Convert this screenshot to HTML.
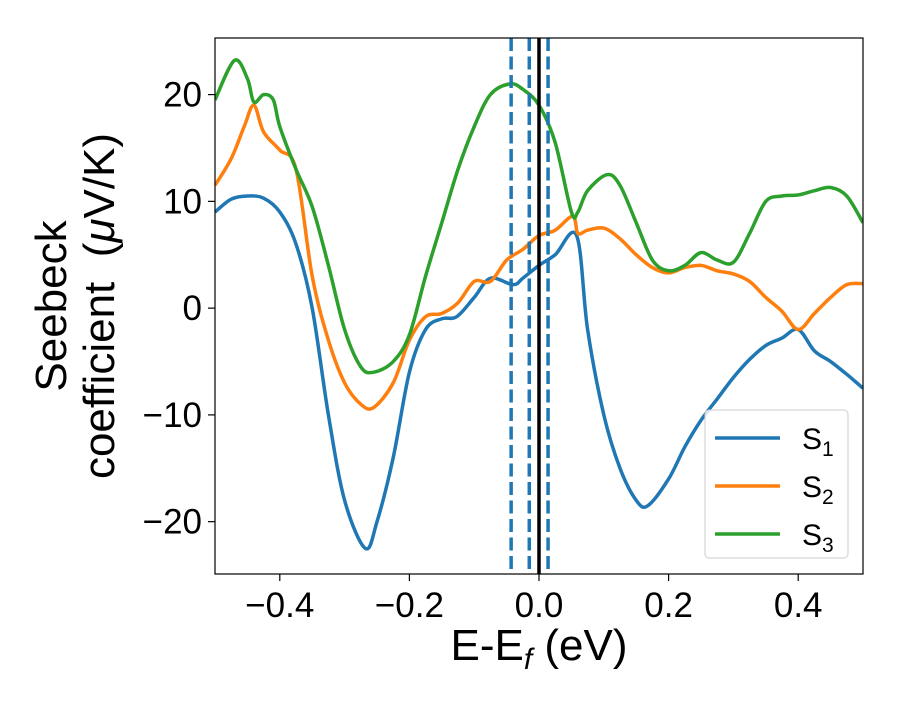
<!DOCTYPE html>
<html><head><meta charset="utf-8"><style>
body{margin:0;background:#fff}
svg text{font-family:"Liberation Sans","DejaVu Sans",sans-serif;fill:#000;white-space:pre}
</style></head><body>
<svg id="chart" width="900" height="700" xmlns="http://www.w3.org/2000/svg"></svg>
<script>
const xTicks=[-0.4,-0.2,0.0,0.2,0.4];
const xTickLabels=["−0.4","−0.2","0.0","0.2","0.4"];
const yTicks=[20,10,0,-10,-20];
const yTickLabels=["20","10","0","−10","−20"];
const s1X=[-0.5,-0.475,-0.45,-0.425,-0.4,-0.375,-0.35,-0.325,-0.3,-0.268,-0.25,-0.225,-0.2,-0.175,-0.15,-0.127,-0.1,-0.075,-0.04,-0.025,0,0.025,0.058,0.075,0.1,0.125,0.15,0.168,0.2,0.225,0.25,0.275,0.3,0.325,0.35,0.375,0.4,0.425,0.45,0.475,0.5];
const s1Y=[9,10.2,10.5,10.3,9,6,0,-10,-18,-22.5,-20,-14,-6,-2,-1,-0.8,1,2.8,2.2,2.8,4,5,6.8,-2,-10,-15,-18,-18.5,-16,-13,-10.5,-8.5,-6.5,-4.8,-3.5,-2.8,-2,-4,-5,-6.2,-7.5];
const s2X=[-0.5,-0.475,-0.455,-0.44,-0.425,-0.4,-0.375,-0.35,-0.325,-0.3,-0.275,-0.255,-0.225,-0.2,-0.175,-0.15,-0.125,-0.1,-0.075,-0.05,-0.025,0,0.025,0.052,0.06,0.075,0.1,0.125,0.15,0.175,0.2,0.225,0.25,0.275,0.3,0.325,0.35,0.375,0.4,0.425,0.45,0.475,0.5];
const s2Y=[11.5,14,17,19,16.5,14.8,13,3,-3,-7,-9,-9.3,-7,-3,-0.8,-0.5,0.5,2.5,2.5,4.5,5.5,6.8,7.3,8.6,7,7.3,7.5,6.5,5,3.8,3.3,3.8,4,3.5,3.2,2.5,1,-0.3,-2,-0.5,1,2.2,2.3];
const s3X=[-0.5,-0.47,-0.45,-0.44,-0.425,-0.41,-0.4,-0.375,-0.35,-0.325,-0.3,-0.275,-0.255,-0.225,-0.2,-0.175,-0.15,-0.125,-0.1,-0.075,-0.045,-0.025,0,0.025,0.05,0.06,0.075,0.105,0.125,0.15,0.175,0.2,0.225,0.25,0.275,0.3,0.325,0.35,0.375,0.4,0.425,0.45,0.475,0.5];
const s3Y=[19.5,23.2,21.5,19.3,20,19.5,17,13,9.5,4,-2,-5.5,-6,-5,-2.5,3,8,13,17,20,21,20.5,19,15.5,9,9,11,12.5,11.5,8,4.5,3.5,4,5.2,4.5,4.3,7,10,10.5,10.6,11,11.3,10.5,8];
const seriesX=[s1X,s2X,s3X];
const seriesY=[s1Y,s2Y,s3Y];
const seriesColors=["#1f77b4","#ff7f0e","#2ca02c"];
const seriesNames=["1","2","3"];
const solidLines=[0];
const dashedLines=[-0.043,-0.015,0.014];

const L=215,R=863,T=38,B=574;
const xMin=-0.5,xMax=0.5,yMin=-24.9,yMax=25.3;
const sx=v=>L+(v-xMin)/(xMax-xMin)*(R-L);
const sy=v=>B-(v-yMin)/(yMax-yMin)*(B-T);
const svg=document.getElementById('chart');
const NS="http://www.w3.org/2000/svg";
function mk(tag,attrs,parent){const e=document.createElementNS(NS,tag);for(const k in attrs)e.setAttribute(k,attrs[k]);(parent||svg).appendChild(e);return e;}

const defs=mk('defs',{});
const cp=mk('clipPath',{id:'clip'},defs);
mk('rect',{x:L,y:T,width:R-L,height:B-T},cp);
const plot=mk('g',{'clip-path':'url(#clip)'});

function smooth(px,py){
  let d=`M${px[0]},${py[0]}`;
  for(let i=0;i<px.length-1;i++){
    const x0=px[Math.max(i-1,0)],y0=py[Math.max(i-1,0)];
    const x1=px[i],y1=py[i],x2=px[i+1],y2=py[i+1];
    const x3=px[Math.min(i+2,px.length-1)],y3=py[Math.min(i+2,px.length-1)];
    d+=` C${x1+(x2-x0)/6},${y1+(y2-y0)/6} ${x2-(x3-x1)/6},${y2-(y3-y1)/6} ${x2},${y2}`;
  }
  return d;
}
seriesX.forEach((xs,i)=>{
  const p=mk('path',{d:smooth(xs.map(sx),seriesY[i].map(sy)),fill:'none',stroke:seriesColors[i],'stroke-width':3.5,'stroke-linejoin':'round'},plot);
  
  
});
dashedLines.forEach(v=>{
  const l=mk('line',{x1:sx(v),x2:sx(v),y1:T,y2:B,stroke:'#1f77b4','stroke-width':3.5,'stroke-dasharray':'13,5.5'},plot);
  
  
});
solidLines.forEach(v=>{
  const l=mk('line',{x1:sx(v),x2:sx(v),y1:T,y2:B,stroke:'#000','stroke-width':3.5},plot);
  
  
});
const frame=mk('rect',{x:L,y:T,width:R-L,height:B-T,fill:'none',stroke:'#000','stroke-width':1.2});



xTicks.forEach((v,i)=>{
  mk('line',{x1:sx(v),x2:sx(v),y1:B,y2:B+7,stroke:'#000','stroke-width':1.2});
  const t=mk('text',{x:sx(v),y:B+43,'font-size':35,'text-anchor':'middle'});
  t.textContent=xTickLabels[i];
  
  
});
yTicks.forEach((v,i)=>{
  mk('line',{x1:L-7,x2:L,y1:sy(v),y2:sy(v),stroke:'#000','stroke-width':1.2});
  const t=mk('text',{x:L-13,y:sy(v)+12,'font-size':35,'text-anchor':'end'});
  t.textContent=yTickLabels[i];
  
  
});

const xl=mk('text',{x:539,y:660,'font-size':44,'text-anchor':'middle'});
xl.innerHTML='E-E<tspan font-style="italic" font-size="30" dy="9">f</tspan><tspan dy="-9"> (eV)</tspan>';


const yl=mk('text',{transform:'translate(66,306) rotate(-90)','font-size':44,'text-anchor':'middle'});
yl.innerHTML='<tspan x="0" dy="0">Seebeck</tspan><tspan x="0" dy="48">coefficient  (<tspan font-style="italic">μ</tspan>V/K)</tspan>';



const lg=mk('g',{});


mk('rect',{x:705,y:410,width:143,height:148,rx:4,fill:'#fff','fill-opacity':0.8,stroke:'#ccc','stroke-width':1},lg);
seriesNames.forEach((n,i)=>{
  const y=438+i*48;
  const g=mk('g',{},lg);
  
  
  mk('line',{x1:715,x2:780,y1:y,y2:y,stroke:seriesColors[i],'stroke-width':3.5},g);
  const t=mk('text',{x:802,y:y+11,'font-size':30},g);
  t.innerHTML='S<tspan font-size="21" dy="7">'+n+'</tspan>';
});
</script>
</body></html>
